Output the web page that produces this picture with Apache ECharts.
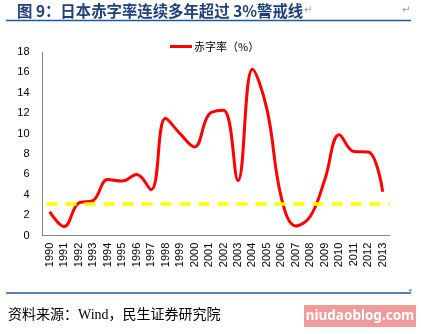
<!DOCTYPE html>
<html><head><meta charset="utf-8">
<script src="https://cdn.jsdelivr.net/npm/echarts@6/dist/echarts.min.js"></script>
<style>html,body{margin:0;padding:0;background:#fff}#c{width:421px;height:334px}</style>
</head><body><div id="c"></div>
<script>
const years = ['1990','1991','1992','1993','1994','1995','1996','1997','1998','1999','2000','2001','2002','2003','2004','2005','2006','2007','2008','2009','2010','2011','2012','2013'];
const deficitRate = [2.35,0.9,3.2,3.45,5.5,5.35,6.0,4.5,11.5,10.0,8.7,11.9,12.3,5.4,16.3,12.4,3.7,0.95,1.9,5.5,9.9,8.25,8.2,4.3];
const warnLevel = 3.1;
const yTicks = {min:0, max:18, interval:2};
const seriesName = '赤字率（%）';
const titleText = '图 9：日本赤字率连续多年超过 3%警戒线';
const sourceText = '资料来源：Wind，民生证券研究院';
const watermark = 'niudaoblog.com';

const chart = echarts.init(document.getElementById('c'), null, {renderer:'canvas'});
chart.setOption({
  animation:false,
  backgroundColor:'#fff',
  grid:{left:42.5, right:31, top:52, bottom:98.3},
  legend:{
    data:[seriesName], left:165, top:36, itemWidth:22, itemHeight:3, itemGap:4,
    icon:'rect',
    textStyle:{fontSize:11, color:'#000', fontFamily:'"Noto Sans CJK SC"', padding:[0,0,0,-3]}
  },
  xAxis:{
    type:'category', data:years, boundaryGap:true,
    axisLine:{lineStyle:{color:'#868686', width:1}},
    axisTick:{show:false},
    axisLabel:{rotate:90, fontSize:11, color:'#000', margin:7, interval:0, fontFamily:'"Liberation Sans", Arial'},
    splitLine:{show:false}
  },
  yAxis:{
    type:'value', min:yTicks.min, max:yTicks.max, interval:yTicks.interval,
    axisLine:{show:true, lineStyle:{color:'#868686', width:1}},
    axisTick:{show:false},
    axisLabel:{fontSize:11, color:'#000', margin:13, fontFamily:'"Liberation Sans", Arial'},
    splitLine:{show:false}
  },
  series:[{
    name:seriesName, type:'line', data:deficitRate, smooth:0.4, symbol:'none',
    lineStyle:{color:'#FF0000', width:3}, itemStyle:{color:'#FF0000'},
    markLine:{
      silent:true, symbol:'none', label:{show:false},
      lineStyle:{color:'#FFFF00', width:3.5, type:[11,8], dashOffset:-4},
      data:[{yAxis:warnLevel}]
    },
    z:3
  }],
  graphic:[
    {type:'text', left:17, top:3, style:{text:titleText, font:'bold 15.4px "Noto Sans CJK SC"', fill:'#1F3F7A'}},
    {type:'text', left:304, top:5, style:{text:'↵', font:'10px "DejaVu Sans"', fill:'#999'}},
    {type:'text', left:402, top:5, style:{text:'↵', font:'10px "DejaVu Sans"', fill:'#999'}},
    {type:'line', shape:{x1:6, y1:20.5, x2:411, y2:20.5}, style:{stroke:'#1F5A96', lineWidth:1.5}},
    {type:'line', shape:{x1:6, y1:293, x2:411, y2:293}, style:{stroke:'#1F5A96', lineWidth:1.5}},
    {type:'text', left:408, top:287, style:{text:'◂', font:'7px "DejaVu Sans"', fill:'#999'}},
    {type:'text', left:8, top:308, style:{text:sourceText, font:'14px "Liberation Serif", "Noto Sans CJK SC"', fill:'#000'}},
    {type:'rect', shape:{x:304, y:305, width:112, height:22}, style:{fill:'#F09A9A'}},
    {type:'text', x:360, y:316, style:{text:watermark, font:'bold 13.5px "Noto Sans"', fill:'#fff', align:'center', verticalAlign:'middle'}}
  ]
});
</script></body></html>
